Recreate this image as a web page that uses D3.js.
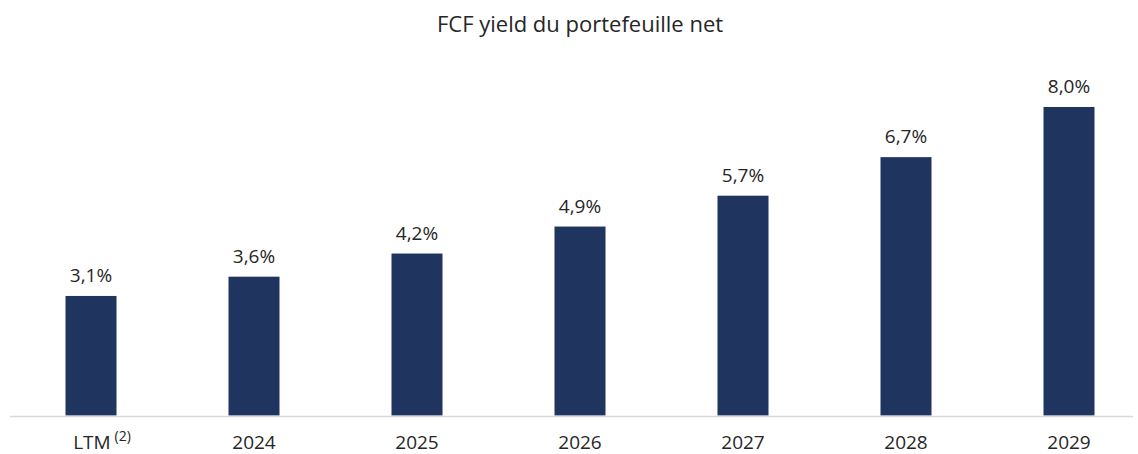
<!DOCTYPE html>
<html>
<head>
<meta charset="utf-8">
<script src="https://cdn.jsdelivr.net/npm/d3@7"></script>
<style>
  html, body { margin: 0; padding: 0; background: #fff; }
  svg { display: block; }
</style>
</head>
<body>
<svg id="chart" width="1138" height="454"></svg>
<script>
const title = "FCF yield du portefeuille net";
const categories = ["LTM", "2024", "2025", "2026", "2027", "2028", "2029"];
const values = [3.1, 3.6, 4.2, 4.9, 5.7, 6.7, 8.0];
const valueLabels = ["3,1%", "3,6%", "4,2%", "4,9%", "5,7%", "6,7%", "8,0%"];

const width = 1138, height = 454;
const baseline = 415.5, plotTop = 107;
const font = "'Open Sans', 'Liberation Sans', sans-serif";

const svg = d3.select("#chart").attr("viewBox", `0 0 ${width} ${height}`);

const x = d3.scaleBand().domain(categories).range([9.5, 1150.5]).padding(0);
const barW = 51;

const y = d3.scaleLinear()
  .domain([0, d3.max(values)])
  .range([baseline, plotTop]);

svg.append("text")
  .attr("x", 580)
  .attr("y", 32)
  .attr("text-anchor", "middle")
  .attr("font-family", font)
  .attr("font-size", 22)
  .attr("fill", "#262626")
  .text(title);

svg.selectAll("rect.bar")
  .data(values)
  .enter()
  .append("rect")
  .attr("class", "bar")
  .attr("x", (d, i) => x(categories[i]) + x.bandwidth() / 2 - barW / 2)
  .attr("y", (d) => y(d))
  .attr("width", barW)
  .attr("height", (d) => baseline - y(d))
  .attr("fill", "#1f3560");

svg.append("line")
  .attr("x1", 10)
  .attr("x2", 1133)
  .attr("y1", baseline + 1)
  .attr("y2", baseline + 1)
  .attr("stroke", "#d9d9d9")
  .attr("stroke-width", 1.5);

svg.selectAll("text.value")
  .data(values)
  .enter()
  .append("text")
  .attr("class", "value")
  .attr("x", (d, i) => x(categories[i]) + x.bandwidth() / 2)
  .attr("y", (d) => y(d) - 14)
  .attr("text-anchor", "middle")
  .attr("font-family", font)
  .attr("font-size", 19)
  .attr("fill", "#262626")
  .text((d, i) => valueLabels[i]);

const ticks = svg.selectAll("text.tick")
  .data(categories)
  .enter()
  .append("text")
  .attr("class", "tick")
  .attr("x", (d) => x(d) + x.bandwidth() / 2 + (d === "LTM" ? 11 : 0))
  .attr("y", 449)
  .attr("text-anchor", "middle")
  .attr("font-family", font)
  .attr("font-size", 19)
  .attr("fill", "#262626");

ticks.append("tspan").text((d) => d);
ticks.filter((d) => d === "LTM")
  .append("tspan")
  .attr("dx", 4)
  .attr("dy", -8)
  .attr("font-size", 14)
  .text("(2)");
</script>
</body>
</html>
